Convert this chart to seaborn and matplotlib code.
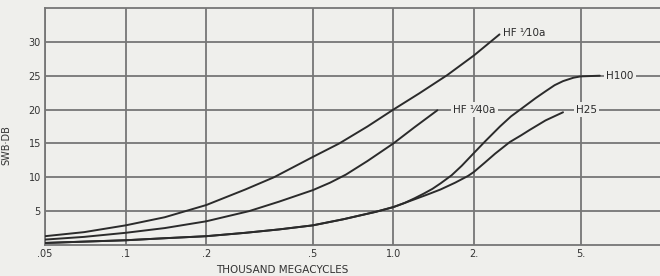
import numpy as np
import pandas as pd
import matplotlib
matplotlib.use("Agg")
import matplotlib.pyplot as plt
import seaborn as sns

# curve readings (thousand megacycles vs SWB-DB)
hf10_x = [0.05, 0.07, 0.1, 0.14, 0.2, 0.28, 0.358, 0.5, 0.628, 0.8, 1.0, 1.25, 1.59, 2.0, 2.49]
hf10_y = [1.3, 1.9, 2.9, 4.1, 5.9, 8.2, 10.0, 13.0, 15.0, 17.5, 20.0, 22.4, 25.1, 28.0, 31.1]

hf40_x = [0.05, 0.07, 0.1, 0.14, 0.2, 0.289, 0.374, 0.5, 0.58, 0.665, 0.8, 1.0, 1.2, 1.46]
hf40_y = [0.8, 1.2, 1.8, 2.5, 3.5, 5.0, 6.4, 8.1, 9.2, 10.4, 12.4, 15.0, 17.4, 19.9]

low_x = [0.05, 0.07, 0.1, 0.14, 0.2, 0.28, 0.374, 0.5, 0.65, 0.86, 1.0, 1.1]
low_y = [0.3, 0.5, 0.7, 1.0, 1.3, 1.8, 2.3, 2.9, 3.8, 4.9, 5.6, 6.2]

h100_x = low_x + [1.2, 1.3, 1.4, 1.5, 1.65, 1.8, 2.0, 2.2, 2.5, 2.75, 3.0, 3.4, 3.7, 4.0, 4.3, 4.7, 5.0, 5.9]
h100_y = low_y + [6.9, 7.6, 8.3, 9.1, 10.3, 11.7, 13.6, 15.3, 17.5, 19.0, 20.1, 21.7, 22.7, 23.6, 24.2, 24.7, 24.9, 25.0]

h25_x = low_x + [1.2, 1.35, 1.5, 1.7, 1.9, 2.0, 2.2, 2.4, 2.72, 3.0, 3.23, 3.7, 4.3]
h25_y = low_y + [6.75, 7.5, 8.2, 9.2, 10.2, 10.8, 12.2, 13.5, 15.2, 16.2, 17.0, 18.4, 19.6]

x_ticks = [0.05, 0.1, 0.2, 0.5, 1.0, 2.0, 5.0]
x_ticklabels = [".05", ".1", ".2", ".5", "1.0", "2.", "5."]
y_ticks = [5, 10, 15, 20, 25, 30]

frames = []
for name, xs, ys in [("HF 1/10a", hf10_x, hf10_y), ("HF 1/40a", hf40_x, hf40_y),
                     ("H100", h100_x, h100_y), ("H25", h25_x, h25_y)]:
    frames.append(pd.DataFrame({"mc": xs, "db": ys, "curve": name}))
df = pd.concat(frames, ignore_index=True)

bg = "#efefec"
grid_c = "#767676"
ink = "#2b2b2b"

sns.set_style("white", {"axes.facecolor": bg, "figure.facecolor": bg})
plt.rcParams["font.family"] = ["DejaVu Sans"]

fig = plt.figure(figsize=(6.6, 2.76), dpi=100)
ax = fig.add_axes([45 / 660, 31 / 276, 615 / 660, 237 / 276])

sns.lineplot(data=df, x="mc", y="db", hue="curve", estimator=None, sort=True,
             palette=[ink] * 4, legend=False, linewidth=1.4, ax=ax, zorder=3)

ax.set_xscale("log")
ax.set_xlim(0.05, 9.9)
ax.set_ylim(0, 35)
ax.set_xticks(x_ticks)
ax.set_xticklabels(x_ticklabels)
ax.minorticks_off()
ax.set_yticks(y_ticks)
ax.set_yticklabels([str(v) for v in y_ticks])
ax.tick_params(length=0, labelsize=7, colors="#333333", pad=3)
ax.grid(True, color=grid_c, linewidth=1.3)
ax.set_axisbelow(True)
for side in ["left", "bottom", "top"]:
    ax.spines[side].set_color(grid_c)
    ax.spines[side].set_linewidth(1.3)
ax.spines["right"].set_visible(False)

ax.set_xlabel("THOUSAND MEGACYCLES", fontsize=7.5, color="#333333")
ax.xaxis.set_label_coords(0.385, -0.085)
ax.set_ylabel("SWB·DB", fontsize=7, color="#333333")
ax.yaxis.set_label_coords(-0.055, 0.42)

lab = dict(fontsize=7.5, color=ink, va="center", zorder=4)
box = dict(facecolor=bg, edgecolor="none", pad=1.5)
ax.text(2.56, 31.3, "HF ¹⁄10a", ha="left", **lab)
ax.text(2.01, 20, "HF ¹⁄40a", ha="center", bbox=box, **lab)
ax.text(5.28, 20, "H25", ha="center", bbox=box, **lab)
ax.text(7.03, 25, "H100", ha="center", bbox=box, **lab)

fig.savefig("out.png", dpi=100, facecolor=bg)
